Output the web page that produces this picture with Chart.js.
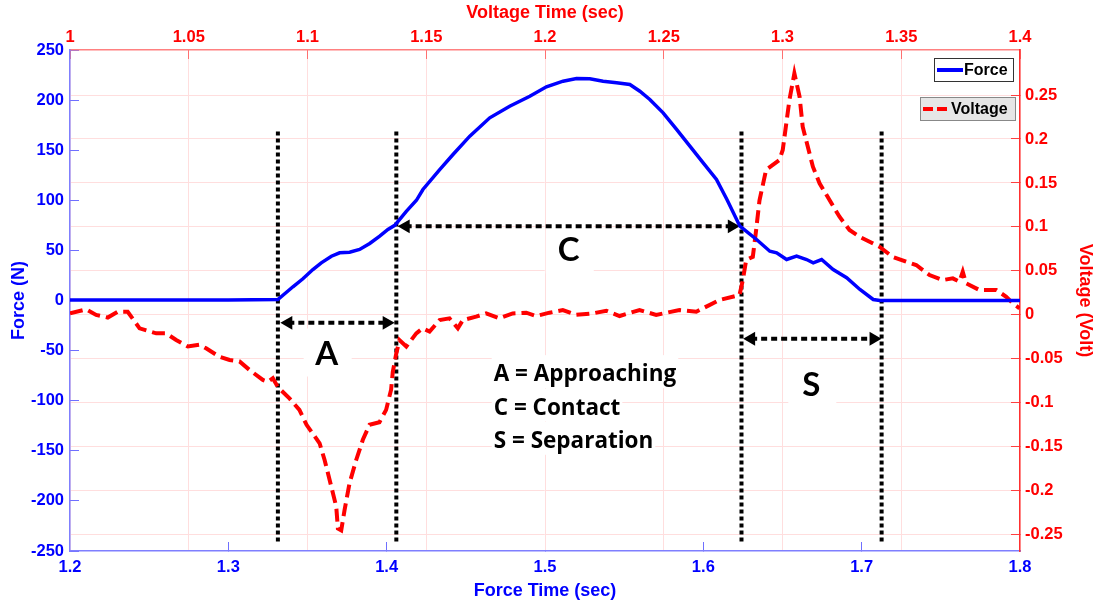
<!DOCTYPE html>
<html>
<head>
<meta charset="utf-8">
<script src="https://cdn.jsdelivr.net/npm/chart.js@4/dist/chart.umd.min.js"></script>
<style>
  html, body { margin: 0; padding: 0; background: #fff; }
  #wrap { width: 1098px; height: 605px; }
</style>
</head>
<body>
<div id="wrap"><canvas id="c" width="1098" height="605"></canvas></div>
<script>
// ---------------- DATA ----------------
const forceTime = [1.2, 1.25, 1.3, 1.3313, 1.3408, 1.3471, 1.3534, 1.3587, 1.3651, 1.3703, 1.3766, 1.3829, 1.3893, 1.3956, 1.4008, 1.4051, 1.4124, 1.4188, 1.4229, 1.4335, 1.4419, 1.4525, 1.4651, 1.4777, 1.4904, 1.5009, 1.5114, 1.5199, 1.5283, 1.5367, 1.5452, 1.5536, 1.5599, 1.5662, 1.5746, 1.5831, 1.5915, 1.5999, 1.6083, 1.6149, 1.6231, 1.6336, 1.642, 1.6463, 1.6526, 1.6589, 1.6652, 1.6694, 1.6747, 1.682, 1.6905, 1.6989, 1.7073, 1.7115, 1.75, 1.8];
const forceValues = [0.5, 0.5, 0.5, 1, 13.7, 21.7, 30.9, 37.6, 44.2, 47.6, 48.2, 50.9, 56.9, 64.2, 70.9, 75, 89, 100, 110.8, 130.7, 145.7, 164, 182.3, 193.9, 203.9, 213.3, 218.9, 221.6, 221.3, 218.9, 217.3, 215.6, 208.9, 200.6, 187.3, 170.7, 154, 137.4, 120.8, 100.8, 74.2, 60.9, 49.2, 47.6, 40.9, 44.2, 40.9, 37.6, 40.9, 30.9, 22.7, 11, 1, 0, 0, 0];

const voltageTime = [1.0, 1.0068, 1.011, 1.0159, 1.0201, 1.0243, 1.0293, 1.0363, 1.0405, 1.0447, 1.0496, 1.0545, 1.0573, 1.0629, 1.0672, 1.0714, 1.0756, 1.0812, 1.0833, 1.0854, 1.0875, 1.0924, 1.0966, 1.0996, 1.1051, 1.1072, 1.11, 1.1121, 1.1128, 1.1142, 1.1156, 1.1177, 1.1205, 1.1233, 1.1261, 1.1303, 1.1331, 1.1352, 1.1359, 1.1373, 1.1387, 1.1416, 1.1458, 1.1485, 1.1514, 1.1556, 1.1598, 1.1633, 1.1654, 1.171, 1.1752, 1.1808, 1.1864, 1.1921, 1.1963, 1.2019, 1.2075, 1.2131, 1.2201, 1.2258, 1.2314, 1.2398, 1.2468, 1.2566, 1.2637, 1.2735, 1.2819, 1.2833, 1.2847, 1.2875, 1.2889, 1.2903, 1.2931, 1.2987, 1.3001, 1.3029, 1.305, 1.3072, 1.3085, 1.3128, 1.3156, 1.3198, 1.324, 1.3282, 1.3324, 1.3408, 1.3464, 1.3521, 1.3563, 1.3619, 1.3675, 1.3717, 1.3745, 1.3759, 1.3773, 1.3829, 1.39, 1.3942, 1.397, 1.3998];
const voltageValues = [0.0017, 0.0063, 0, -0.003, 0.0036, 0.0036, -0.0153, -0.021, -0.021, -0.0286, -0.036, -0.034, -0.038, -0.0476, -0.0513, -0.053, -0.0627, -0.074, -0.076, -0.072, -0.082, -0.095, -0.108, -0.125, -0.146, -0.165, -0.195, -0.218, -0.243, -0.245, -0.222, -0.1915, -0.165, -0.142, -0.125, -0.122, -0.108, -0.085, -0.065, -0.045, -0.0286, -0.036, -0.021, -0.0153, -0.019, -0.0059, -0.004, -0.0153, -0.0059, -0.002, 0.0017, -0.004, 0.0017, 0.0025, -0.0013, 0.0025, 0.0055, 0, 0.0017, 0.0047, -0.0013, 0.0055, 0, 0.0055, 0.0036, 0.017, 0.0226, 0.0396, 0.0624, 0.066, 0.0965, 0.13, 0.165, 0.176, 0.1875, 0.244, 0.2747, 0.248, 0.214, 0.1685, 0.1496, 0.1306, 0.1116, 0.0965, 0.0889, 0.0775, 0.066, 0.0604, 0.0567, 0.0453, 0.0396, 0.0415, 0.0377, 0.049, 0.0359, 0.0283, 0.0283, 0.0206, 0.013, 0.0074];

// phase boundary markers (force time) and their vertical extent (force units)
const markerTimes = [1.3313, 1.4061, 1.6241, 1.7126];
const markerRange = [-240.5, 169.7];

// double arrows: start tip, end tip (force time), level (force)
const arrowStart = [1.3328, 1.4069, 1.6251];
const arrowEnd = [1.4051, 1.6231, 1.7126];
const arrowLevel = [-22.3, 74, -38.2];

// phase letters
const phaseLetters = ['A', 'C', 'S'];
const phaseLetterTime = [1.3621, 1.515, 1.6682];
const phaseLetterForce = [-51.9, 50.9, -83.8];

// key text
const keyLines = ['A = Approaching', 'C = Contact', 'S = Separation'];
const keyTime = 1.4676;
const keyForce = [-80.5, -113.8, -147];

// tick values
const forceTicks = [-250, -200, -150, -100, -50, 0, 50, 100, 150, 200, 250];
const voltageTicks = [-0.25, -0.2, -0.15, -0.1, -0.05, 0, 0.05, 0.1, 0.15, 0.2, 0.25];
const forceTimeTicks = [1.2, 1.3, 1.4, 1.5, 1.6, 1.7, 1.8];
const voltageTimeTicks = [1, 1.05, 1.1, 1.15, 1.2, 1.25, 1.3, 1.35, 1.4];

// ---------------- CHART ----------------
const BLUE = '#0000ff';
const RED = '#ff0000';
const tickFont = { family: 'Liberation Sans, Arial, sans-serif', size: 16.5, weight: 'bold' };
const titleFont = { family: 'Liberation Sans, Arial, sans-serif', size: 18, weight: 'bold' };
const headOffset = 0.0051;

const datasets = [
  {
    label: 'Force',
    data: forceTime.map((t, i) => ({ x: t, y: forceValues[i] })),
    xAxisID: 'x', yAxisID: 'y',
    borderColor: BLUE, borderWidth: 3.5, pointRadius: 0, tension: 0
  },
  {
    label: 'Voltage',
    data: voltageTime.map((t, i) => ({ x: t, y: voltageValues[i] })),
    xAxisID: 'x2', yAxisID: 'y2',
    borderColor: RED, borderWidth: 4, borderDash: [13, 6], pointRadius: 0, tension: 0
  }
];
markerTimes.forEach(t => datasets.push({
  label: '_marker',
  data: [{ x: t, y: markerRange[0] }, { x: t, y: markerRange[1] }],
  xAxisID: 'x', yAxisID: 'y',
  borderColor: '#000', borderWidth: 4, borderDash: [4, 3], pointRadius: 0
}));
arrowStart.forEach((s, i) => datasets.push({
  label: '_arrow',
  data: [{ x: s + headOffset, y: arrowLevel[i] }, { x: arrowEnd[i] - headOffset, y: arrowLevel[i] }],
  xAxisID: 'x', yAxisID: 'y',
  borderColor: '#000', borderWidth: 4, borderDash: [6, 4],
  pointStyle: 'triangle', pointRotation: [-90, 90], pointRadius: 8,
  pointBackgroundColor: '#000', pointBorderWidth: 0, pointHoverRadius: 8
}));

const annotations = {
  id: 'annotations',
  beforeDatasetsDraw(chart) {
    const { ctx, scales: { x, y } } = chart;
    ctx.save();
    ctx.font = 'bold 33px Lato, "Open Sans", sans-serif';
    ctx.textAlign = 'center';
    ctx.textBaseline = 'alphabetic';
    phaseLetters.forEach((s, i) => {
      const px = x.getPixelForValue(phaseLetterTime[i]);
      const py = y.getPixelForValue(phaseLetterForce[i]);
      ctx.fillStyle = '#fff';
      ctx.fillRect(px - 23, py - 24, 48, 48);
      ctx.fillStyle = '#000';
      ctx.fillText(s, px, py + 12);
    });
    ctx.font = 'bold 22.5px "Open Sans", Lato, sans-serif';
    ctx.textAlign = 'left';
    keyLines.forEach((s, i) => {
      const px = x.getPixelForValue(keyTime);
      const py = y.getPixelForValue(keyForce[i]);
      const w = ctx.measureText(s).width;
      ctx.fillStyle = '#fff';
      ctx.fillRect(px - 2, py - 26, w + 4, 33);
      ctx.fillStyle = '#000';
      ctx.fillText(s, px, py);
    });
    ctx.restore();
  },
  afterDraw(chart) {
    const { ctx } = chart;
    const dsF = chart.data.datasets[0], dsV = chart.data.datasets[1];
    ctx.save();
    ctx.font = 'bold 16px Liberation Sans, Arial, sans-serif';
    ctx.textBaseline = 'middle';
    ctx.textAlign = 'left';
    // Force legend box
    ctx.fillStyle = '#fff';
    ctx.fillRect(934.5, 58.5, 79, 23);
    ctx.strokeStyle = '#333'; ctx.lineWidth = 1;
    ctx.strokeRect(934.5, 58.5, 79, 23);
    ctx.beginPath(); ctx.strokeStyle = dsF.borderColor; ctx.lineWidth = 4;
    ctx.moveTo(937, 70); ctx.lineTo(963, 70); ctx.stroke();
    ctx.fillStyle = '#000'; ctx.fillText(dsF.label, 964, 70.5);
    // Voltage legend box
    ctx.fillStyle = '#e6e6e6';
    ctx.fillRect(920.5, 97.5, 95, 23);
    ctx.strokeStyle = '#888'; ctx.lineWidth = 1;
    ctx.strokeRect(920.5, 97.5, 95, 23);
    ctx.beginPath(); ctx.strokeStyle = dsV.borderColor; ctx.lineWidth = 4;
    ctx.setLineDash([10, 4]);
    ctx.moveTo(923, 109); ctx.lineTo(950, 109); ctx.stroke();
    ctx.setLineDash([]);
    ctx.fillStyle = '#000'; ctx.fillText(dsV.label, 951, 109.5);
    ctx.restore();
  }
};

function fixedTicks(values) {
  return scale => { scale.ticks = values.map(v => ({ value: v })); };
}

new Chart(document.getElementById('c'), {
  type: 'line',
  data: { datasets },
  plugins: [annotations],
  options: {
    responsive: false,
    animation: false,
    devicePixelRatio: 1,
    layout: { padding: 0 },
    plugins: { legend: { display: false }, tooltip: { enabled: false } },
    scales: {
      x: {
        type: 'linear', position: 'bottom', min: 1.2, max: 1.8,
        afterBuildTicks: fixedTicks(forceTimeTicks),
        afterFit: s => { s.height = 54; },
        ticks: { color: BLUE, font: tickFont, padding: 15.6, maxRotation: 0, callback: v => String(v) },
        grid: { drawOnChartArea: false, tickLength: -9, tickColor: '#6f6fff' },
        border: { color: '#7f7fff', width: 1.5 },
        title: { display: true, text: 'Force Time (sec)', color: BLUE, font: titleFont, padding: { top: 0, bottom: 3.2 } }
      },
      x2: {
        type: 'linear', position: 'top', min: 1, max: 1.4,
        afterBuildTicks: fixedTicks(voltageTimeTicks),
        afterFit: s => { s.height = 50; },
        ticks: { color: RED, font: tickFont, padding: 11.6, maxRotation: 0, callback: v => String(v) },
        grid: { drawOnChartArea: true, color: '#ffdede', lineWidth: 1, tickLength: -9, tickColor: '#ff7070' },
        border: { color: '#ff8080', width: 1.5 },
        title: { display: true, text: 'Voltage Time (sec)', color: RED, font: titleFont, padding: { top: 2.2, bottom: 0 } }
      },
      y: {
        type: 'linear', position: 'left', min: -250, max: 250,
        afterBuildTicks: fixedTicks(forceTicks),
        afterFit: s => { s.width = 70; },
        ticks: { color: BLUE, font: tickFont, padding: 15, callback: v => String(v) },
        grid: { drawOnChartArea: false, tickLength: -9, tickColor: '#6f6fff' },
        border: { color: '#7f7fff', width: 1.5 },
        title: { display: true, text: 'Force (N)', color: BLUE, font: titleFont, padding: { top: 8.2, bottom: 0 } }
      },
      y2: {
        type: 'linear', position: 'right', min: -0.2685, max: 0.3012,
        afterBuildTicks: fixedTicks(voltageTicks),
        afterFit: s => { s.width = 78; },
        ticks: { color: RED, font: tickFont, padding: 14, callback: v => String(v) },
        grid: { drawOnChartArea: true, color: '#ffdede', lineWidth: 1, tickLength: -9, tickColor: '#ff4040' },
        border: { color: '#ff3030', width: 1.5 },
        title: { display: true, text: 'Voltage (Volt)', color: RED, font: titleFont, padding: { top: 2.2, bottom: 0 } }
      }
    }
  }
});
</script>
</body>
</html>
